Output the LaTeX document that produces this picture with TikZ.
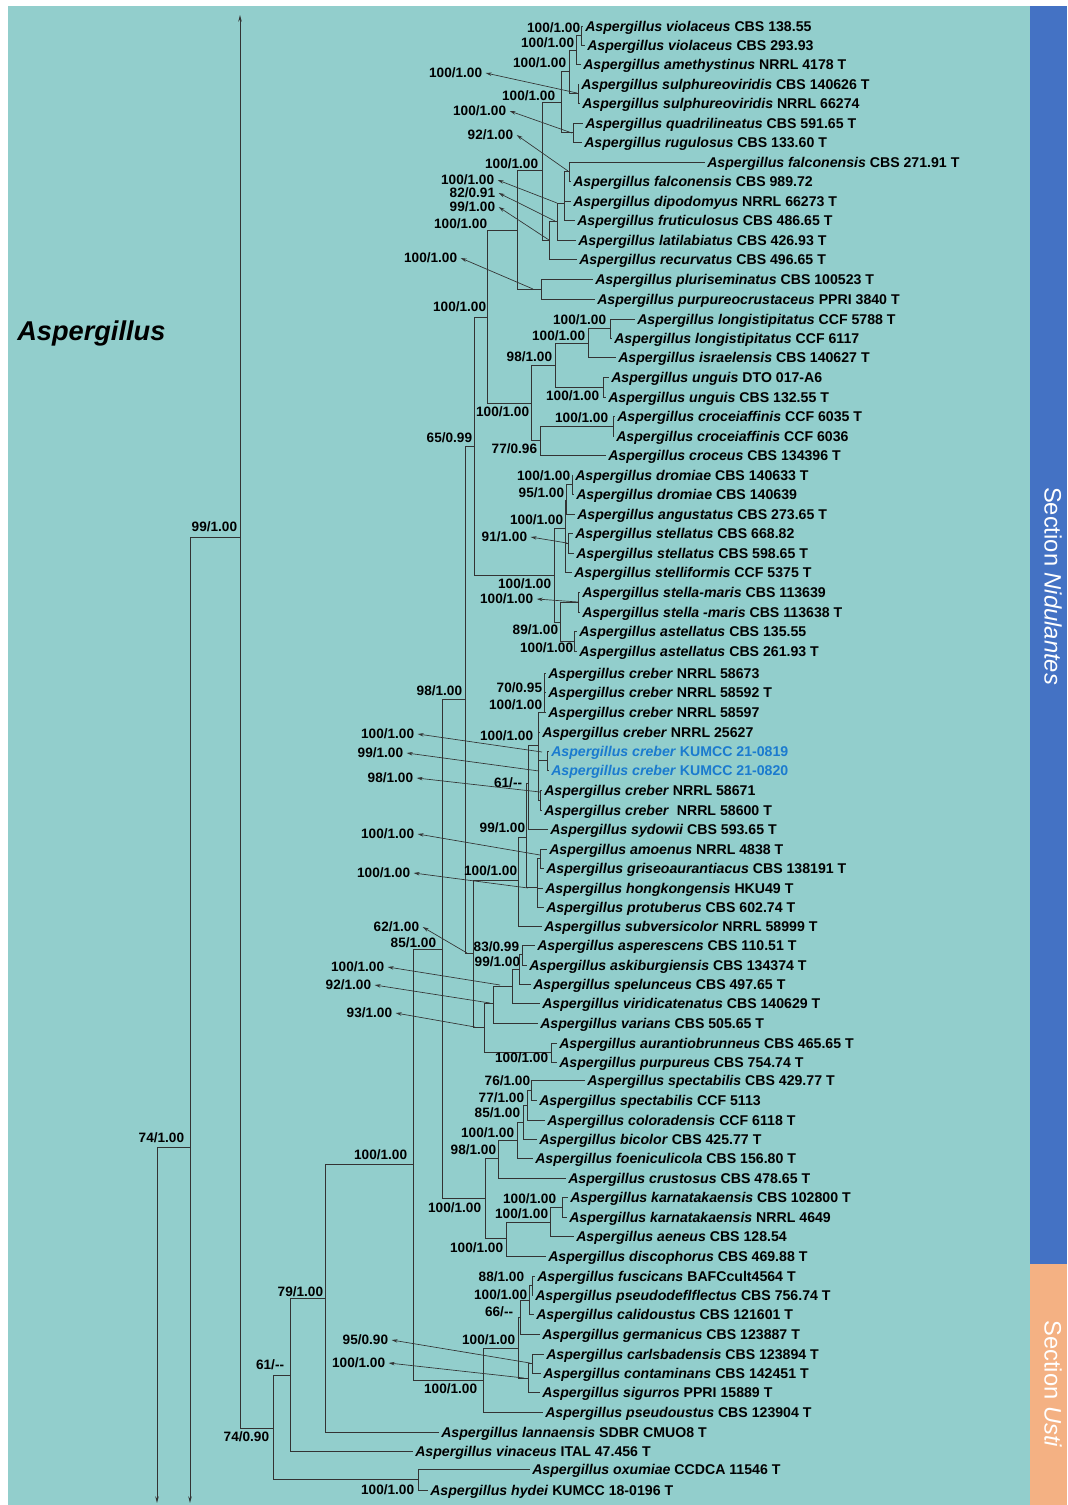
\documentclass[tikz,border=0pt]{standalone}
\usepackage{fontspec}
\setmainfont{Liberation Sans}
\usetikzlibrary{arrows.meta}
\definecolor{bgteal}{HTML}{92CECC}
\definecolor{barblue}{HTML}{4472C4}
\definecolor{barorange}{HTML}{F4B183}
\definecolor{newblue}{HTML}{1B7BCF}
\definecolor{linegray}{HTML}{333333}
\newcommand{\asp}[1]{\textit{Aspergillus #1}}
\begin{document}
\begin{tikzpicture}[x=0.75pt,y=-0.75pt,
  br/.style={draw=linegray,line width=0.7pt},
  taxon/.style={anchor=base west,xshift=1.5pt,yshift=-3.8pt,inner sep=0pt,font=\fontsize{10.6}{12}\selectfont\bfseries},
  bs/.style={anchor=east,inner sep=0.5pt,font=\fontsize{10.2}{12}\selectfont\bfseries},
  pointer/.style={draw=linegray,line width=0.5pt,{Stealth[length=4.5pt,width=2.6pt]}-},
  longarrow/.style={draw=linegray,line width=0.7pt,-{Stealth[length=5pt,width=2.6pt]}}
]
\useasboundingbox (0,0) rectangle (1067,1505);
\fill[white] (0,0) rectangle (1067,1505);
\fill[bgteal] (8,6) rectangle (1030,1505);
\fill[barblue] (1030,6) rectangle (1067,1264);
\fill[barorange] (1030,1264) rectangle (1067,1505);
\node[rotate=-90,text=white,inner sep=0pt,font=\fontsize{17.8}{20}\selectfont] (secN) at (1053,586) {Section \textit{Nidulantes}};
\node[rotate=-90,text=white,inner sep=0pt,font=\fontsize{17.8}{20}\selectfont] (secU) at (1053,1384) {Section \textit{Usti}};
\node[anchor=west,inner sep=0pt,font=\fontsize{20.4}{24}\selectfont\bfseries\itshape] (title) at (17,333) {Aspergillus};

% internal nodes
\coordinate (n1) at (581,35.5);
\coordinate (n2) at (576,50);
\coordinate (nsul) at (578,93);
\coordinate (n3) at (569,71.5);
\coordinate (nqr) at (573,132.5);
\coordinate (n4) at (561,102);
\coordinate (nfal) at (569,171.5);
\coordinate (n564) at (564,203);
\coordinate (n557) at (557,221);
\coordinate (n549) at (549,240);
\coordinate (n5) at (542,170);
\coordinate (npp) at (541,289);
\coordinate (n6) at (517,230);
\coordinate (nlong) at (610,328.5);
\coordinate (n588) at (588,343);
\coordinate (nung) at (603,387);
\coordinate (n555) at (555,365);
\coordinate (ncrf) at (613,426);
\coordinate (n539) at (540,440);
\coordinate (n531) at (531,403);
\coordinate (n487) at (487,317);
\coordinate (ndro) at (572,484.5);
\coordinate (n566) at (566,500);
\coordinate (nste) at (568,543);
\coordinate (n565) at (565,528);
\coordinate (nsm) at (578,602);
\coordinate (nast) at (574,641);
\coordinate (n560) at (560,622);
\coordinate (n554) at (554,575);
\coordinate (n474) at (474,446);
\coordinate (nc1) at (544,712);
\coordinate (nk) at (547,760.5);
\coordinate (nn) at (540,800);
\coordinate (nc4) at (538,745);
\coordinate (nc5) at (528,783);
\coordinate (namo) at (540,858.5);
\coordinate (nc6) at (537,887);
\coordinate (n526) at (526,837);
\coordinate (n518) at (518,880);
\coordinate (n522) at (522,954);
\coordinate (n519) at (519,969);
\coordinate (n512) at (512,986);
\coordinate (n493) at (493,1003);
\coordinate (nap) at (551,1052);
\coordinate (n484) at (484,1027);
\coordinate (n473) at (473,953);
\coordinate (n465) at (465,699);
\coordinate (n531s) at (531,1090);
\coordinate (n527) at (527,1105);
\coordinate (n523) at (523,1122);
\coordinate (n517s) at (517,1140);
\coordinate (n498) at (498,1158);
\coordinate (n562) at (562,1207);
\coordinate (n550) at (550,1222);
\coordinate (n506) at (506,1238);
\coordinate (n485) at (485,1198);
\coordinate (n442) at (442,949);
\coordinate (n533a) at (532,1285.5);
\coordinate (n531u) at (529,1300);
\coordinate (n520) at (520,1317);
\coordinate (n532c) at (532,1363.5);
\coordinate (n528) at (528,1378);
\coordinate (n518u) at (518,1348);
\coordinate (n483) at (483,1380);
\coordinate (n413) at (413,1164);
\coordinate (n325) at (325,1298);
\coordinate (n290) at (290,1375);
\coordinate (n418) at (418,1479.5);
\coordinate (n273) at (273,1428);
\coordinate (n240) at (240,537);
\coordinate (n190) at (190,1147);
\coordinate (n157) at (157,1147);
\coordinate (t240) at (240,15);
\coordinate (b190) at (190,1503);
\coordinate (b157) at (157,1503);

% leaves
\coordinate (v1) at (583,26);   \node[taxon] (tv1) at (v1) {\asp{violaceus} CBS 138.55};
\coordinate (v2) at (585,45);   \node[taxon] (tv2) at (v2) {\asp{violaceus} CBS 293.93};
\coordinate (v3) at (581,64);   \node[taxon] (tv3) at (v3) {\asp{amethystinus} NRRL 4178 T};
\coordinate (v4) at (579,84);   \node[taxon] (tv4) at (v4) {\asp{sulphureoviridis} CBS 140626 T};
\coordinate (v5) at (580,103);  \node[taxon] (tv5) at (v5) {\asp{sulphureoviridis} NRRL 66274};
\coordinate (v6) at (583,123);  \node[taxon] (tv6) at (v6) {\asp{quadrilineatus} CBS 591.65 T};
\coordinate (v7) at (582,142);  \node[taxon] (tv7) at (v7) {\asp{rugulosus} CBS 133.60 T};
\coordinate (v8) at (705,162);  \node[taxon] (tv8) at (v8) {\asp{falconensis} CBS 271.91 T};
\coordinate (v9) at (571,181);  \node[taxon] (tv9) at (v9) {\asp{falconensis} CBS 989.72};
\coordinate (v10) at (571,201); \node[taxon] (tv10) at (v10) {\asp{dipodomyus} NRRL 66273 T};
\coordinate (v11) at (575,220); \node[taxon] (tv11) at (v11) {\asp{fruticulosus} CBS 486.65 T};
\coordinate (v12) at (576,240); \node[taxon] (tv12) at (v12) {\asp{latilabiatus} CBS 426.93 T};
\coordinate (v13) at (577,259); \node[taxon] (tv13) at (v13) {\asp{recurvatus} CBS 496.65 T};
\coordinate (v14) at (593,279); \node[taxon] (tv14) at (v14) {\asp{pluriseminatus} CBS 100523 T};
\coordinate (v15) at (595,299); \node[taxon] (tv15) at (v15) {\asp{purpureocrustaceus} PPRI 3840 T};
\coordinate (v16) at (635,319); \node[taxon] (tv16) at (v16) {\asp{longistipitatus} CCF 5788 T};
\coordinate (v17) at (612,338); \node[taxon] (tv17) at (v17) {\asp{longistipitatus} CCF 6117};
\coordinate (v18) at (616,357); \node[taxon] (tv18) at (v18) {\asp{israelensis} CBS 140627 T};
\coordinate (v19) at (609,377); \node[taxon] (tv19) at (v19) {\asp{unguis} DTO 017-A6};
\coordinate (v20) at (606,397); \node[taxon] (tv20) at (v20) {\asp{unguis} CBS 132.55 T};
\coordinate (v21) at (615,416); \node[taxon] (tv21) at (v21) {\asp{croceiaffinis} CCF 6035 T};
\coordinate (v22) at (614,436); \node[taxon] (tv22) at (v22) {\asp{croceiaffinis} CCF 6036};
\coordinate (v23) at (606,455); \node[taxon] (tv23) at (v23) {\asp{croceus} CBS 134396 T};
\coordinate (v24) at (573,475); \node[taxon] (tv24) at (v24) {\asp{dromiae} CBS 140633 T};
\coordinate (v25) at (574,494); \node[taxon] (tv25) at (v25) {\asp{dromiae} CBS 140639};
\coordinate (v26) at (575,514); \node[taxon] (tv26) at (v26) {\asp{angustatus} CBS 273.65 T};
\coordinate (v27) at (573,533); \node[taxon] (tv27) at (v27) {\asp{stellatus} CBS 668.82};
\coordinate (v28) at (574,553); \node[taxon] (tv28) at (v28) {\asp{stellatus} CBS 598.65 T};
\coordinate (v29) at (572,572); \node[taxon] (tv29) at (v29) {\asp{stelliformis} CCF 5375 T};
\coordinate (v30) at (580,592); \node[taxon] (tv30) at (v30) {\asp{stella-maris} CBS 113639};
\coordinate (v31) at (580,612); \node[taxon] (tv31) at (v31) {\asp{stella -maris} CBS 113638 T};
\coordinate (v32) at (577,631); \node[taxon] (tv32) at (v32) {\asp{astellatus} CBS 135.55};
\coordinate (v33) at (577,651); \node[taxon] (tv33) at (v33) {\asp{astellatus} CBS 261.93 T};
\coordinate (v34) at (546,673); \node[taxon] (tv34) at (v34) {\asp{creber} NRRL 58673};
\coordinate (v35) at (546,692); \node[taxon] (tv35) at (v35) {\asp{creber} NRRL 58592 T};
\coordinate (v36) at (546,712); \node[taxon] (tv36) at (v36) {\asp{creber} NRRL 58597};
\coordinate (v37) at (540,732); \node[taxon] (tv37) at (v37) {\asp{creber} NRRL 25627};
\coordinate (v38) at (549,751); \node[taxon,text=newblue] (tv38) at (v38) {\asp{creber} KUMCC 21-0819};
\coordinate (v39) at (549,770); \node[taxon,text=newblue] (tv39) at (v39) {\asp{creber} KUMCC 21-0820};
\coordinate (v40) at (542,790); \node[taxon] (tv40) at (v40) {\asp{creber} NRRL 58671};
\coordinate (v41) at (542,810); \node[taxon] (tv41) at (v41) {\asp{creber}\ \ NRRL 58600 T};
\coordinate (v42) at (548,829); \node[taxon] (tv42) at (v42) {\asp{sydowii} CBS 593.65 T};
\coordinate (v43) at (547,849); \node[taxon] (tv43) at (v43) {\asp{amoenus} NRRL 4838 T};
\coordinate (v44) at (544,868); \node[taxon] (tv44) at (v44) {\asp{griseoaurantiacus} CBS 138191 T};
\coordinate (v45) at (543,888); \node[taxon] (tv45) at (v45) {\asp{hongkongensis} HKU49 T};
\coordinate (v46) at (544,907); \node[taxon] (tv46) at (v46) {\asp{protuberus} CBS 602.74 T};
\coordinate (v47) at (542,926); \node[taxon] (tv47) at (v47) {\asp{subversicolor} NRRL 58999 T};
\coordinate (v48) at (535,945); \node[taxon] (tv48) at (v48) {\asp{asperescens} CBS 110.51 T};
\coordinate (v49) at (527,965); \node[taxon] (tv49) at (v49) {\asp{askiburgiensis} CBS 134374 T};
\coordinate (v50) at (531,984); \node[taxon] (tv50) at (v50) {\asp{spelunceus} CBS 497.65 T};
\coordinate (v51) at (540,1003); \node[taxon] (tv51) at (v51) {\asp{viridicatenatus} CBS 140629 T};
\coordinate (v52) at (538,1023); \node[taxon] (tv52) at (v52) {\asp{varians} CBS 505.65 T};
\coordinate (v53) at (557,1043); \node[taxon] (tv53) at (v53) {\asp{aurantiobrunneus} CBS 465.65 T};
\coordinate (v54) at (557,1062); \node[taxon] (tv54) at (v54) {\asp{purpureus} CBS 754.74 T};
\coordinate (v55) at (585,1080); \node[taxon] (tv55) at (v55) {\asp{spectabilis} CBS 429.77 T};
\coordinate (v56) at (537,1100); \node[taxon] (tv56) at (v56) {\asp{spectabilis} CCF 5113};
\coordinate (v57) at (545,1120); \node[taxon] (tv57) at (v57) {\asp{coloradensis} CCF 6118 T};
\coordinate (v58) at (537,1139); \node[taxon] (tv58) at (v58) {\asp{bicolor} CBS 425.77 T};
\coordinate (v59) at (533,1158); \node[taxon] (tv59) at (v59) {\asp{foeniculicola} CBS 156.80 T};
\coordinate (v60) at (566,1178); \node[taxon] (tv60) at (v60) {\asp{crustosus} CBS 478.65 T};
\coordinate (v61) at (568,1197); \node[taxon] (tv61) at (v61) {\asp{karnatakaensis} CBS 102800 T};
\coordinate (v62) at (567,1217); \node[taxon] (tv62) at (v62) {\asp{karnatakaensis} NRRL 4649};
\coordinate (v63) at (574,1236); \node[taxon] (tv63) at (v63) {\asp{aeneus} CBS 128.54};
\coordinate (v64) at (546,1256); \node[taxon] (tv64) at (v64) {\asp{discophorus} CBS 469.88 T};
\coordinate (v65) at (535,1276); \node[taxon] (tv65) at (v65) {\asp{fuscicans} BAFCcult4564 T};
\coordinate (v66) at (533,1295); \node[taxon] (tv66) at (v66) {\asp{pseudodeflflectus} CBS 756.74 T};
\coordinate (v67) at (534,1314); \node[taxon] (tv67) at (v67) {\asp{calidoustus} CBS 121601 T};
\coordinate (v68) at (540,1334); \node[taxon] (tv68) at (v68) {\asp{germanicus} CBS 123887 T};
\coordinate (v69) at (544,1354); \node[taxon] (tv69) at (v69) {\asp{carlsbadensis} CBS 123894 T};
\coordinate (v70) at (541,1373); \node[taxon] (tv70) at (v70) {\asp{contaminans} CBS 142451 T};
\coordinate (v71) at (540,1392); \node[taxon] (tv71) at (v71) {\asp{sigurros} PPRI 15889 T};
\coordinate (v72) at (543,1412); \node[taxon] (tv72) at (v72) {\asp{pseudoustus} CBS 123904 T};
\coordinate (v73) at (439,1432); \node[taxon] (tv73) at (v73) {\asp{lannaensis} SDBR CMUO8 T};
\coordinate (v74) at (413,1451); \node[taxon] (tv74) at (v74) {\asp{vinaceus} ITAL 47.456 T};
\coordinate (v75) at (530,1469); \node[taxon] (tv75) at (v75) {\asp{oxumiae} CCDCA 11546 T};
\coordinate (v76) at (428,1490); \node[taxon] (tv76) at (v76) {\asp{hydei} KUMCC 18-0196 T};

% branches
\foreach \p/\c in {n1/v1,n1/v2,n2/n1,n2/v3,n3/n2,n3/nsul,nsul/v4,nsul/v5,n4/n3,n4/nqr,nqr/v6,nqr/v7,
  nfal/v8,nfal/v9,n564/nfal,n564/v10,n564/v11,n557/n564,n557/v12,n549/n557,n549/v13,n5/n4,n5/n549,
  npp/v14,npp/v15,n6/n5,n6/npp,nlong/v16,nlong/v17,n588/nlong,n588/v18,nung/v19,nung/v20,n555/n588,n555/nung,
  ncrf/v21,ncrf/v22,n539/ncrf,n539/v23,n531/n555,n531/n539,n487/n6,n487/n531,
  ndro/v24,ndro/v25,n566/ndro,n566/v26,nste/v27,nste/v28,n565/n566,n565/nste,n565/v29,
  nsm/v30,nsm/v31,nast/v32,nast/v33,n560/nsm,n560/nast,n554/n565,n554/n560,n474/n487,n474/n554,
  nc1/v34,nc1/v35,nc1/v36,nk/v38,nk/v39,nn/v40,nn/v41,nc4/nc1,nc4/v37,nc4/nk,nc4/nn,nc5/nc4,nc5/v42,
  namo/v43,namo/v44,nc6/namo,nc6/v45,nc6/v46,n526/nc5,n526/nc6,n518/n526,n518/v47,
  n522/v48,n522/v49,n519/n522,n519/v50,n512/n519,n512/v51,n493/n512,n493/v52,nap/v53,nap/v54,
  n484/n493,n484/nap,n473/n518,n473/n484,n465/n474,n465/n473,
  n531s/v55,n531s/v56,n527/n531s,n527/v57,n523/n527,n523/v58,n517s/n523,n517s/v59,n498/n517s,n498/v60,
  n562/v61,n562/v62,n550/n562,n550/v63,n506/n550,n506/v64,n485/n498,n485/n506,n442/n465,n442/n485,
  n533a/v65,n533a/v66,n531u/n533a,n531u/v67,n520/n531u,n520/v68,n532c/v69,n532c/v70,n528/n532c,n528/v71,
  n518u/n520,n518u/n528,n483/n518u,n483/v72,n413/n442,n413/n483,n325/n413,n325/v73,n290/n325,n290/v74,
  n418/v75,n418/v76,n273/n290,n273/n418,n240/n273,n190/n240}
  {\draw[br] (\p) |- (\c);}
\draw[br] (n157) -- (n190);
\draw[longarrow] (n240) -- (t240);
\draw[longarrow] (n190) -- (b190);
\draw[longarrow] (n157) -- (b157);

% support labels
\node[bs] (l1) at (581,28) {100/1.00};
\node[bs] (l2) at (575,43) {100/1.00};
\node[bs] (l3) at (567,63) {100/1.00};
\node[bs] (l4) at (483,73) {100/1.00};
\node[bs] (l5) at (556,96) {100/1.00};
\node[bs] (l6) at (507,111) {100/1.00};
\node[bs] (l7) at (514,135) {92/1.00};
\node[bs] (l8) at (539,164) {100/1.00};
\node[bs] (l9) at (495,180) {100/1.00};
\node[bs] (l10) at (496,193) {82/0.91};
\node[bs] (l11) at (496,207) {99/1.00};
\node[bs] (l12) at (488,224) {100/1.00};
\node[bs] (l13) at (458,258) {100/1.00};
\node[bs] (l14) at (487,307) {100/1.00};
\node[bs] (l15) at (607,320) {100/1.00};
\node[bs] (l16) at (586,336) {100/1.00};
\node[bs] (l17) at (553,357) {98/1.00};
\node[bs] (l18) at (600,396) {100/1.00};
\node[bs] (l19) at (530,412) {100/1.00};
\node[bs] (l20) at (609,418) {100/1.00};
\node[bs] (l21) at (473,438) {65/0.99};
\node[bs] (l22) at (538,449) {77/0.96};
\node[bs] (l23) at (571,476) {100/1.00};
\node[bs] (l24) at (565,493) {95/1.00};
\node[bs] (l25) at (564,520) {100/1.00};
\node[bs] (l26) at (528,537) {91/1.00};
\node[bs] (l27) at (552,584) {100/1.00};
\node[bs] (l28) at (534,599) {100/1.00};
\node[bs] (l29) at (559,630) {89/1.00};
\node[bs] (l30) at (574,648) {100/1.00};
\node[bs] (l31) at (463,691) {98/1.00};
\node[bs] (l32) at (543,688) {70/0.95};
\node[bs] (l33) at (543,705) {100/1.00};
\node[bs] (l34) at (415,734) {100/1.00};
\node[bs] (l35) at (534,736) {100/1.00};
\node[bs] (l36) at (404,753) {99/1.00};
\node[bs] (l37) at (414,778) {98/1.00};
\node[bs] (l38) at (523,783) {61/-{}-};
\node[bs] (l39) at (415,834) {100/1.00};
\node[bs] (l40) at (526,828) {99/1.00};
\node[bs] (l41) at (411,873) {100/1.00};
\node[bs] (l42) at (518,871) {100/1.00};
\node[bs] (l43) at (420,927) {62/1.00};
\node[bs] (l44) at (437,943) {85/1.00};
\node[bs] (l45) at (520,947) {83/0.99};
\node[bs] (l46) at (521,962) {99/1.00};
\node[bs] (l47) at (385,967) {100/1.00};
\node[bs] (l48) at (372,985) {92/1.00};
\node[bs] (l49) at (393,1013) {93/1.00};
\node[bs] (l50) at (549,1058) {100/1.00};
\node[bs] (l51) at (531,1081) {76/1.00};
\node[bs] (l52) at (525,1098) {77/1.00};
\node[bs] (l53) at (521,1113) {85/1.00};
\node[bs] (l54) at (515,1133) {100/1.00};
\node[bs] (l55) at (497,1150) {98/1.00};
\node[bs] (l56) at (408,1155) {100/1.00};
\node[bs] (l57) at (557,1199) {100/1.00};
\node[bs] (l58) at (482,1208) {100/1.00};
\node[bs] (l59) at (549,1214) {100/1.00};
\node[bs] (l60) at (504,1248) {100/1.00};
\node[bs] (l61) at (525,1277) {88/1.00};
\node[bs] (l62) at (324,1292) {79/1.00};
\node[bs] (l63) at (528,1295) {100/1.00};
\node[bs] (l64) at (514,1312) {66/-{}-};
\node[bs] (l65) at (516,1340) {100/1.00};
\node[bs] (l66) at (389,1340) {95/0.90};
\node[bs] (l67) at (386,1363) {100/1.00};
\node[bs] (l68) at (285,1365) {61/-{}-};
\node[bs] (l69) at (478,1389) {100/1.00};
\node[bs] (l70) at (270,1437) {74/0.90};
\node[bs] (l71) at (415,1490) {100/1.00};
\node[bs] (l72) at (238,527) {99/1.00};
\node[bs] (l73) at (185,1138) {74/1.00};

% pointer targets
\coordinate (a4) at (577,93);
\coordinate (a6) at (572,133);
\coordinate (a7) at (568,171);
\coordinate (a9) at (557,203);
\coordinate (a10) at (555,221);
\coordinate (a11) at (549,240);
\coordinate (a13) at (533,289);
\coordinate (a26) at (567,543);
\coordinate (a28) at (578,602);
\coordinate (a34) at (542,752);
\coordinate (a36) at (539,771);
\coordinate (a37) at (540,792);
\coordinate (a39) at (540,855);
\coordinate (a41) at (528,888);
\coordinate (a43) at (467,953);
\coordinate (a47) at (500,985);
\coordinate (a48) at (490,1003);
\coordinate (a49) at (475,1027);
\coordinate (a66) at (530,1363);
\coordinate (a67) at (524,1378);
\foreach \l in {4,6,7,9,10,11,13,26,28,34,36,37,39,41,43,47,48,49,66,67}
  {\draw[pointer] ([xshift=2pt]l\l.east) -- (a\l);}
\end{tikzpicture}
\end{document}
